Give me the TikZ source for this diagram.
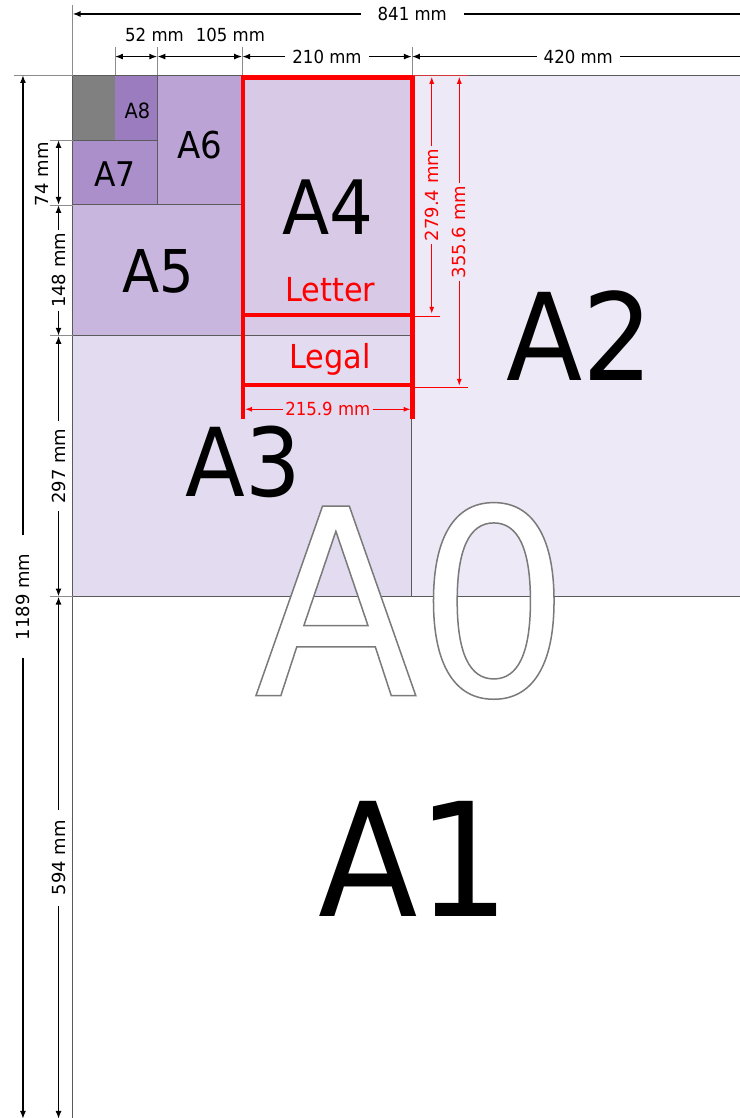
\documentclass[tikz,border=0pt]{standalone}
\usepackage{fontspec}
\setmainfont{DejaVu Sans}[FakeStretch=0.92]
\newfontfamily\uprightfont{DejaVu Sans}
\usetikzlibrary{arrows.meta}

\definecolor{restgray}{HTML}{808080}
\definecolor{fillA8}{HTML}{9B7DBF}
\definecolor{fillA7}{HTML}{AA8FCB}
\definecolor{fillA6}{HTML}{BBA3D6}
\definecolor{fillA5}{HTML}{C9B6DF}
\definecolor{fillA4}{HTML}{D8CAE7}
\definecolor{fillA3}{HTML}{E3DCF0}
\definecolor{fillA2}{HTML}{EDE9F6}
\definecolor{cellline}{HTML}{5A5A5A}
\definecolor{extline}{HTML}{8C8C8C}

% white letters with a grey rim
\newcommand{\hollow}[1]{\special{pdf:literal direct 2 Tr 1.5 w 0.48 G}#1\special{pdf:literal direct 0 Tr}}

\tikzset{
  cell/.style={draw=cellline, line width=0.9pt},
  ext/.style={draw=extline, line width=0.7pt},
  dimto/.style={line width=1.5pt, -{Latex[length=8pt,width=6pt]}},
  dimboth/.style={line width=1.5pt, {Latex[length=8pt,width=6pt]}-{Latex[length=8pt,width=6pt]}},
  dimtext/.style={font=\fontsize{18}{18}\selectfont, inner ysep=0pt, inner xsep=7pt},
  vdimtext/.style={font=\uprightfont\fontsize{18}{18}\selectfont, inner ysep=0pt, inner xsep=7pt, rotate=90},
  sizetext/.style={font=\fontsize{#1}{#1}\selectfont, inner sep=0pt},
  redframe/.style={draw=red, line width=4.5pt},
  reddim/.style={red, line width=1.1pt, -{Latex[length=7pt,width=5pt]}},
  redtext/.style={text=red, font=\fontsize{18}{18}\selectfont, inner ysep=0pt, inner xsep=2.5pt},
}

\begin{document}
\begin{tikzpicture}[x=0.808pt, y=-0.878pt]
\useasboundingbox (-72.5pt,75pt) rectangle (666.5pt,-1043pt);
\fill[white] (-72.5pt,75pt) rectangle (666.5pt,-1043pt);
%Sheets
\filldraw[fill=fillA2, cell] (420,0) rectangle (841,594);
\filldraw[fill=fillA3, cell] (0,297) rectangle (420,594);
\filldraw[fill=fillA4, cell] (210,0) rectangle (420,297);
\filldraw[fill=fillA5, cell] (0,148) rectangle (210,297);
\filldraw[fill=fillA6, cell] (105,0) rectangle (210,148);
\filldraw[fill=fillA7, cell] (0,74) rectangle (105,148);
\filldraw[fill=fillA8, cell] (52.5,0) rectangle (105,74);
\fill[restgray] (0,0) rectangle (52.5,74);
\draw[cell] (0,0) rectangle (841,1189);
%Extension lines
\draw[ext] (-72.4,0) -- (0,0);
\foreach \yy in {74,148,297,594} \draw[ext] (-27.8,\yy) -- (0,\yy);
\draw[ext] (0,-80) -- (0,0);
\foreach \xx in {52.5,105,210,420} \draw[ext] (\xx,-32) -- (\xx,0);
%Letter and Legal
\draw[redframe] (211,392) -- (211,2.8) -- (421,2.8) -- (421,392);
\draw[redframe] (211,273.3) -- (421,273.3);
\draw[redframe] (211,353) -- (421,353);
\draw[red, line width=0.5pt] (421,274.5) -- (454.8,274.5);
\draw[red, line width=0.5pt] (421,356) -- (489.5,356);
\draw[red!60!extline, line width=0.5pt] (421,0) -- (489.5,0);
%Text
\node[sizetext=21] (A8) at (80.4,40.4) {A8};
\node[sizetext=34] (A7) at (52.6,112.8) {A7};
\node[sizetext=37] (A6) at (157.8,79.7) {A6};
\node[sizetext=59] (A5) at (105.8,224) {A5};
\node[sizetext=75] (A4) at (316.2,150.3) {A4};
\node[sizetext=95] (A3) at (211,441) {A3};
\node[sizetext=121] (A2) at (628,297.3) {A2};
\node[sizetext=158] (A1) at (423,893) {A1};
\node[sizetext=260, text=white] (A0) at (420.2,599) {\hollow{A0}};
\node[sizetext=33, text=red, anchor=base] (letter) at (319,258.2) {Letter};
\node[sizetext=33, text=red, anchor=base] (legal) at (319,334) {Legal};
%Widths
\node[dimtext, inner xsep=17pt] (w841) at (420.5,-69.5) {841 mm};
\coordinate (w841l) at (0,-69.5);
\coordinate (w841r) at (841,-69.5);
\draw[dimto] (w841) -- (w841l);
\draw[dimto] (w841) -- (w841r);
\node[dimtext] (l52) at (101.5,-46) {52 mm};
\node[dimtext] (l105) at (195.5,-46) {105 mm};
\coordinate (w52l) at (52.5,-21);
\coordinate (w105l) at (105,-21);
\coordinate (w210l) at (210,-21);
\coordinate (w420l) at (420,-21);
\coordinate (w420r) at (841,-21);
\draw[dimboth] (w52l) -- (w105l);
\draw[dimboth] (w105l) -- (w210l);
\node[dimtext] (w210) at (315,-21) {210 mm};
\draw[dimto] (w210) -- (w210l);
\draw[dimto] (w210) -- (w420l);
\node[dimtext] (w420) at (626,-21) {420 mm};
\draw[dimto] (w420) -- (w420l);
\draw[dimto] (w420) -- (w420r);
%Heights
\node[vdimtext, inner xsep=18pt] (h1189) at (-61.3,594.5) {1189 mm};
\coordinate (h1189t) at (-61.3,0);
\coordinate (h1189b) at (-61.3,1189);
\draw[dimto] (h1189) -- (h1189t);
\draw[dimto] (h1189) -- (h1189b);
\coordinate (h74) at (-17.3,74);
\coordinate (h148) at (-17.3,148);
\coordinate (h297) at (-17.3,297);
\coordinate (h594) at (-17.3,594);
\coordinate (h1189i) at (-17.3,1189);
\draw[dimboth] (h74) -- (h148);
\node[vdimtext] (l74) at (-37.7,113) {74 mm};
\node[vdimtext, inner xsep=3pt] (d148) at (-17.3,222.5) {148 mm};
\draw[dimto] (d148) -- (h148);
\draw[dimto] (d148) -- (h297);
\node[vdimtext] (d297) at (-17.3,445.5) {297 mm};
\draw[dimto] (d297) -- (h297);
\draw[dimto] (d297) -- (h594);
\node[vdimtext, inner xsep=10pt] (d594) at (-17.3,891.5) {594 mm};
\draw[dimto] (d594) -- (h594);
\draw[dimto] (d594) -- (h1189i);
%Letter and Legal sizes
\node[redtext, font=\uprightfont\fontsize{18}{18}\selectfont, rotate=90] (h279) at (444.6,136.7) {279.4 mm};
\coordinate (h279t) at (444.6,2);
\coordinate (h279b) at (444.6,272);
\draw[reddim] (h279) -- (h279t);
\draw[reddim] (h279) -- (h279b);
\node[redtext, font=\uprightfont\fontsize{18}{18}\selectfont, rotate=90] (h356) at (478.7,178.8) {355.6 mm};
\coordinate (h356t) at (478.7,2);
\coordinate (h356b) at (478.7,354);
\draw[reddim] (h356) -- (h356t);
\draw[reddim] (h356) -- (h356b);
\node[redtext] (w216) at (316,380.7) {215.9 mm};
\coordinate (w216l) at (213.5,380.7);
\coordinate (w216r) at (418.5,380.7);
\draw[reddim] (w216) -- (w216l);
\draw[reddim] (w216) -- (w216r);
\end{tikzpicture}
\end{document}
